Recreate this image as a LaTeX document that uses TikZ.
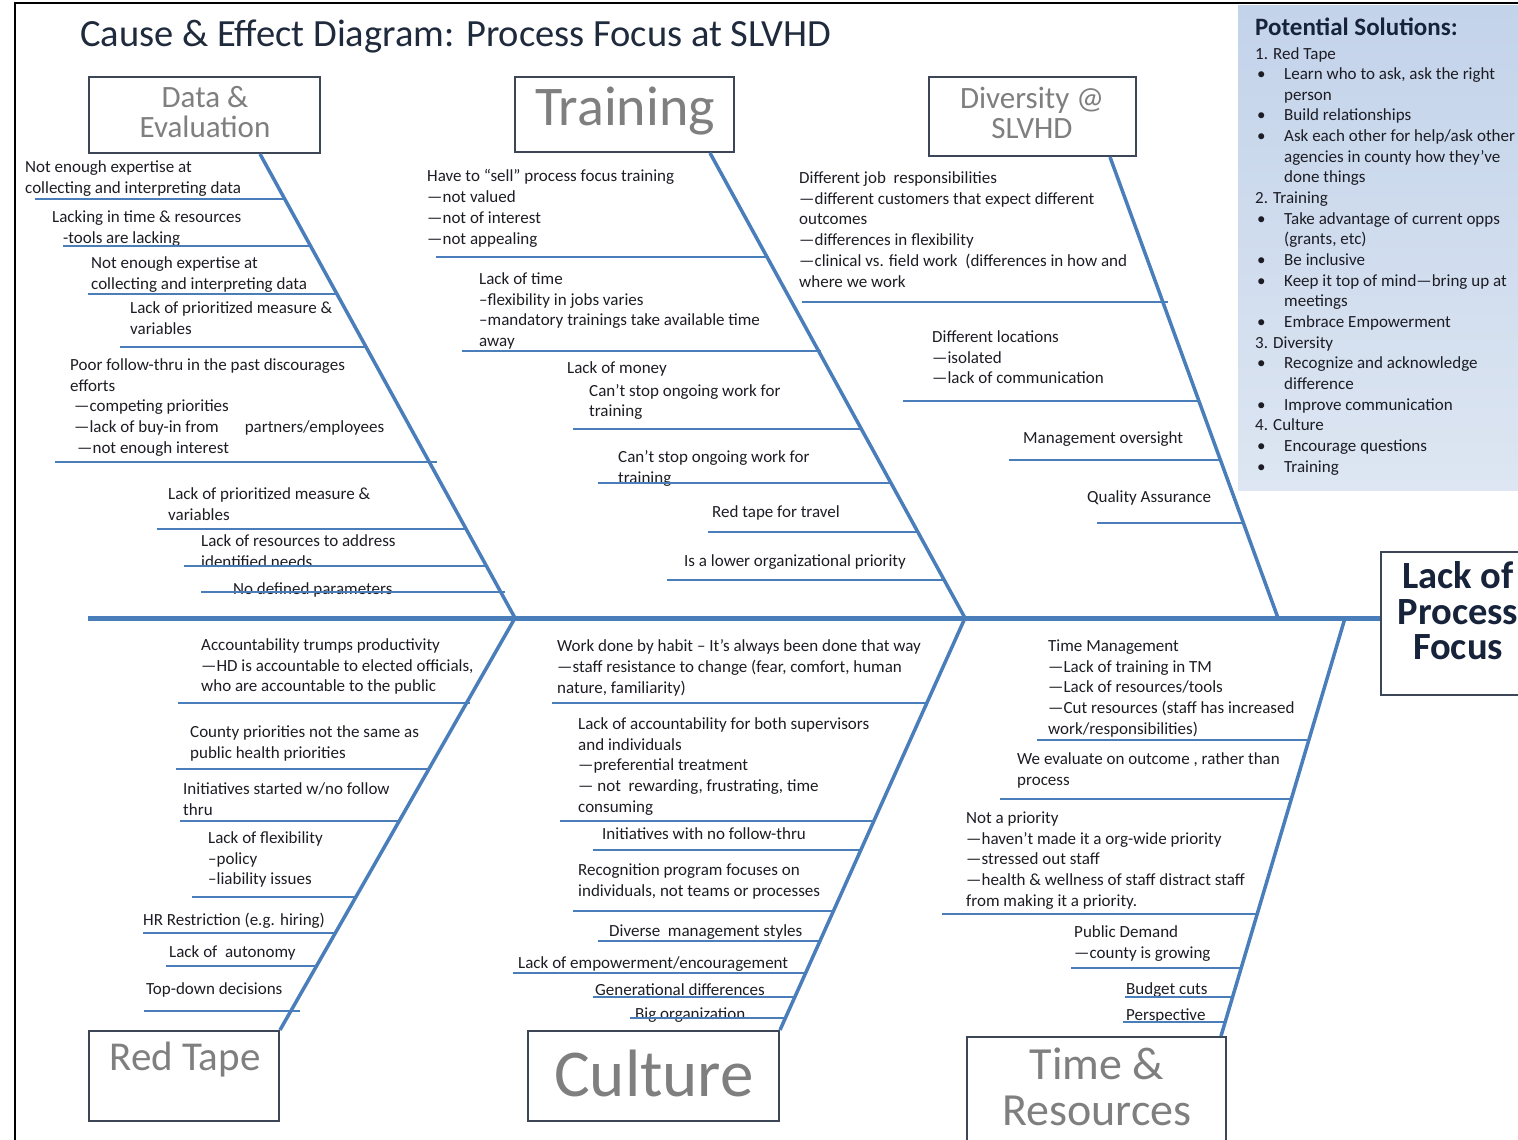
\documentclass[tikz,border=0pt]{standalone}
\usepackage{fontspec}
\setmainfont{Carlito}

\definecolor{fishblue}{HTML}{4A7EBB}
\definecolor{causetext}{HTML}{1C1C24}
\definecolor{catgray}{HTML}{7F7F7F}
\definecolor{boxedge}{HTML}{3C4657}
\definecolor{titlecol}{HTML}{1F2A3C}
\definecolor{navy}{HTML}{17233A}
\definecolor{solTop}{HTML}{C3D3EA}
\definecolor{solBot}{HTML}{DDE6F2}

% bullet and hanging indent for the solutions list
\newcommand{\solbul}{\hspace*{2pt}\makebox[27pt][l]{\textbullet}}
\newcommand{\solind}{\hspace*{29pt}}

\begin{document}
\begin{tikzpicture}[
  x=1pt, y=-1pt,
  spine/.style={draw=fishblue, line width=5pt},
  bone/.style={draw=fishblue, line width=3.5pt},
  twig/.style={draw=fishblue, line width=1.6pt},
  % placed by the baseline of the first line
  cause/.style={
    anchor=north west, yshift=11.5pt, align=left, inner sep=0pt,
    text=causetext, font=\fontsize{17}{20.7}\selectfont,
    execute at begin node=\strut
  },
  catbox/.style={draw=boxedge, line width=2pt, fill=white, inner sep=0pt},
  cattext/.style={text=catgray, align=center, inner sep=0pt},
  effectbox/.style={draw=boxedge, line width=2pt, fill=white,
    minimum width=156, minimum height=143},
  effecttext/.style={text=navy, align=center, inner sep=0pt,
    font=\fontsize{38.5}{35.5}\selectfont\bfseries},
  solbox/.style={top color=solTop, bottom color=solBot, draw=none,
    minimum width=280, minimum height=485, anchor=north west, inner sep=0pt},
  solhead/.style={anchor=base west, inner sep=0pt, text=navy,
    font=\fontsize{25}{28}\selectfont\bfseries},
  sollist/.style={anchor=north west, yshift=11pt, align=left, inner sep=0pt,
    text=causetext, font=\fontsize{17}{20.65}\selectfont,
    execute at begin node=\strut},
]
\useasboundingbox (0,0) rectangle (1518,1140);

% page frame and solutions panel
\draw[line width=2.5pt] (15,1140) -- (15,3) -- (1518,3);
\node[solbox] (solbg) at (1238,5) {};
\node[solhead] (solhd) at (1255,36) {Potential Solutions:};
\node[sollist] (sol) at (1255,58) {%
1. Red Tape\\
\solbul Learn who to ask, ask the right\\
\solind person\\
\solbul Build relationships\\
\solbul Ask each other for help/ask other\\
\solind agencies in county how they’ve\\
\solind done things\\
2. Training\\
\solbul Take advantage of current opps\\
\solind (grants, etc)\\
\solbul Be inclusive\\
\solbul Keep it top of mind—bring up at\\
\solind meetings\\
\solbul Embrace Empowerment\\
3. Diversity\\
\solbul Recognize and acknowledge\\
\solind difference\\
\solbul Improve communication\\
4. Culture\\
\solbul Encourage questions\\
\solbul Training};

\node[anchor=base west, inner sep=0pt, text=titlecol,
  font=\fontsize{38.5}{42}\selectfont] (title) at (80,47)
  {Cause \& Effect Diagram: Process Focus at SLVHD};

% category boxes
\node[catbox, minimum width=231, minimum height=76] (data) at (204.5,115) {};
\node[catbox, minimum width=219, minimum height=75] (training) at (624.5,114.5) {};
\node[catbox, minimum width=207, minimum height=79] (diversity) at (1032.5,116.5) {};
\node[catbox, minimum width=190, minimum height=90] (redtape) at (184,1076) {};
\node[catbox, minimum width=251, minimum height=90] (culture) at (653.5,1076) {};
\node[catbox, minimum width=259, minimum height=108] (timeres) at (1096.5,1091) {};
\node[effectbox] (effect) at (1459,623.5) {};

\node[cattext, font=\fontsize{31}{30}\selectfont] (datalbl) at (205,112) {Data \&\\Evaluation};
\node[cattext, font=\fontsize{56}{60}\selectfont] (traininglbl) at (625,111) {Training};
\node[cattext, font=\fontsize{31}{30}\selectfont] (diversitylbl) at (1032,113) {Diversity @\\SLVHD};
\node[cattext, font=\fontsize{41}{45}\selectfont] (redtapelbl) at (185,1060) {Red Tape};
\node[cattext, font=\fontsize{67}{70}\selectfont] (culturelbl) at (654,1073) {Culture};
\node[cattext, font=\fontsize{46}{46}\selectfont] (timereslbl) at (1097,1087) {Time \&\\Resources};
\node[effecttext] (effectlbl) at (1458,611) {Lack of\\Process\\Focus};

% spine and bones
\coordinate (tail) at (88,618);
\coordinate (jA) at (515,618);
\coordinate (jB) at (965,618);
\coordinate (jC) at (1278,618);
\coordinate (jD) at (1345,618);

\draw[bone] ([xshift=55.5]data.south) -- (jA);
\draw[bone] ([xshift=85.5]training.south) -- (jB);
\draw[bone] ([xshift=77.5]diversity.south) -- (jC);
\draw[bone] (jA) -- (redtape.north east);
\draw[bone] (jB) -- (culture.north east);
\draw[bone] (jD) -- ([xshift=-6]timeres.north east);
\draw[spine] (tail) -- (tail -| effect.west);

% Data & Evaluation
\node[cause] (d1) at (25,172) {Not enough expertise at\\collecting and interpreting data};
\draw[twig] (35,199) -- (285,199);
\node[cause] (d2) at (52,222) {Lacking in time \& resources\\\hspace*{11pt}-tools are lacking};
\draw[twig] (63,246) -- (311,246);
\node[cause] (d3) at (91,268) {Not enough expertise at\\collecting and interpreting data};
\draw[twig] (88,294) -- (337,294);
\node[cause] (d4) at (130,313) {Lack of prioritized measure \&\\variables};
\draw[twig] (120,347) -- (366,347);
\node[cause] (d5) at (70,370) {Poor follow-thru in the past discourages\\efforts\\
  \hspace*{4pt}---competing priorities\\
  \hspace*{4pt}---lack of buy-in from\hspace{26pt}partners/employees\\
  \hspace*{7pt}---not enough interest};
\draw[twig] (55,462) -- (437,462);
\node[cause] (d6) at (168,499) {Lack of prioritized measure \&\\variables};
\draw[twig] (157,529) -- (466,529);
\node[cause] (d7) at (201,546) {Lack of resources to address\\identified needs};
\draw[twig] (184,566) -- (486,566);
\node[cause] (d8) at (233,591) {No defined parameters};
\draw[twig] (201,592) -- (505,592);

% Training
\node[cause] (t1) at (427,181) {Have to “sell” process focus training\\---not valued\\---not of interest\\---not appealing};
\draw[twig] (436,257) -- (767,257);
\node[cause] (t2) at (479,284) {Lack of time\\--flexibility in jobs varies\\--mandatory trainings take available time\\away};
\draw[twig] (462,351) -- (821,351);
\node[cause] (t3) at (567,373) {Lack of money\\[2pt]\hspace*{22pt}Can’t stop ongoing work for\\\hspace*{22pt}training};
\draw[twig] (573,429) -- (862,429);
\node[cause] (t4) at (618,462) {Can’t stop ongoing work for\\training};
\draw[twig] (598,483) -- (891,483);
\node[cause] (t5) at (712,514) {Red tape for travel};
\draw[twig] (708,532) -- (918,532);
\node[cause] (t6) at (684,563) {Is a lower organizational priority};
\draw[twig] (667,580) -- (944,580);

% Diversity @ SLVHD
\node[cause] (v1) at (799,183) {Different job\ \ responsibilities\\---different customers that expect different\\outcomes\\---differences in flexibility\\---clinical vs. field work\ \ (differences in how and\\where we work};
\draw[twig] (802,302) -- (1168,302);
\node[cause] (v2) at (932,342) {Different locations\\---isolated\\---lack of communication};
\draw[twig] (903,401) -- (1199,401);
\node[cause] (v3) at (1023,440) {Management oversight};
\draw[twig] (1009,460) -- (1220,460);
\node[cause] (v4) at (1087,499) {Quality Assurance};
\draw[twig] (1097,523) -- (1243,523);

% Red Tape
\node[cause] (r1) at (201,650) {Accountability trumps productivity\\---HD is accountable to elected officials,\\who are accountable to the public};
\draw[twig] (178,703) -- (470,703);
\node[cause] (r2) at (190,737) {County priorities not the same as\\public health priorities};
\draw[twig] (176,769) -- (429,769);
\node[cause] (r3) at (183,794) {Initiatives started w/no follow\\thru};
\draw[twig] (180,821) -- (399,821);
\node[cause] (r4) at (208,843) {Lack of flexibility\\--policy\\--liability issues};
\draw[twig] (192,897) -- (356,897);
\node[cause] (r5) at (143,922) {HR Restriction (e.g. hiring)};
\draw[twig] (143,933) -- (335,933);
\node[cause] (r6) at (169,954) {Lack of\ \ autonomy};
\draw[twig] (166,966) -- (316,966);
\node[cause] (r7) at (146,991) {Top-down decisions};
\draw[twig] (144,1011) -- (300,1011);

% Culture
\node[cause] (c1) at (557,651) {Work done by habit – It’s always been done that way\\---staff resistance to change (fear, comfort, human\\nature, familiarity)};
\draw[twig] (552,703) -- (927,703);
\node[cause] (c2) at (578,729) {Lack of accountability for both supervisors\\and individuals\\---preferential treatment\\--- not\ \ rewarding, frustrating, time\\consuming};
\draw[twig] (560,821) -- (874,821);
\node[cause] (c3) at (602,836) {Initiatives with no follow-thru};
\draw[twig] (593,850) -- (860,850);
\node[cause] (c4) at (578,875) {Recognition program focuses on\\individuals, not teams or processes};
\draw[twig] (573,911) -- (833,911);
\node[cause] (c5) at (609,933) {Diverse\ \ management styles};
\draw[twig] (598,941) -- (819,941);
\node[cause] (c6) at (518,965) {Lack of empowerment/encouragement};
\draw[twig] (513,973) -- (805,973);
\node[cause] (c7) at (595,992) {Generational differences};
\draw[twig] (593,997) -- (794,997);
\node[cause] (c8) at (635,1016) {Big organization};
\draw[twig] (630,1018) -- (785,1018);

% Time & Resources
\node[cause] (m1) at (1048,651) {Time Management\\---Lack of training in TM\\---Lack of resources/tools\\---Cut resources (staff has increased\\work/responsibilities)};
\draw[twig] (1037,740) -- (1309,740);
\node[cause] (m2) at (1017,764) {We evaluate on outcome , rather than\\process};
\draw[twig] (1000,799) -- (1291,799);
\node[cause] (m3) at (966,823) {Not a priority\\---haven’t made it a org-wide priority\\---stressed out staff\\---health \& wellness of staff distract staff\\from making it a priority.};
\draw[twig] (942,914) -- (1257,914);
\node[cause] (m4) at (1074,937) {Public Demand\\---county is growing};
\draw[twig] (1071,968) -- (1241,968);
\node[cause] (m5) at (1126,991) {Budget cuts};
\draw[twig] (1125,997) -- (1232,997);
\node[cause] (m6) at (1126,1017) {Perspective};
\draw[twig] (1123,1022) -- (1225,1022);

\end{tikzpicture}
\end{document}
